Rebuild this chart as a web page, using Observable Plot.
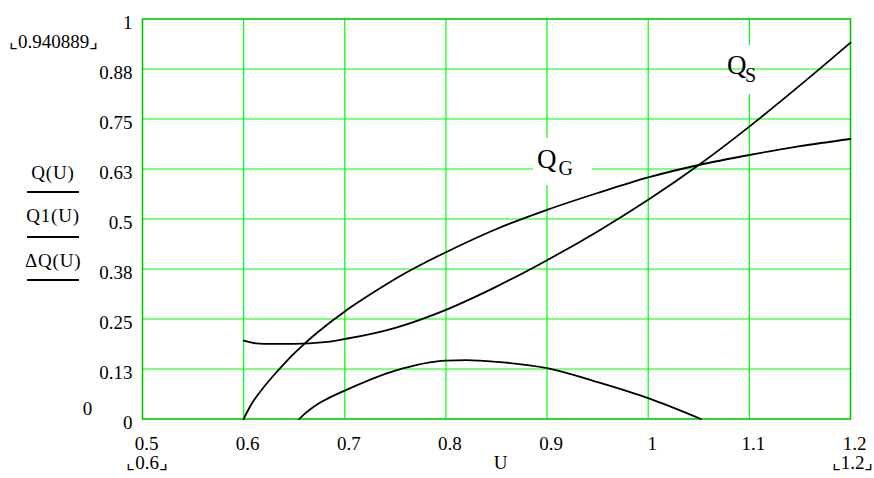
<!DOCTYPE html>
<html><head><meta charset="utf-8">
<script src="https://cdn.jsdelivr.net/npm/d3@7"></script>
<script src="https://cdn.jsdelivr.net/npm/@observablehq/plot@0.6"></script>
<style>
body{margin:0;background:#fff;}
#wrap{position:relative;width:874px;height:478px;font-family:"Liberation Serif","Times New Roman",serif;color:#000;}
.abs{position:absolute;white-space:nowrap;line-height:1;}
.leg{position:absolute;left:25px;width:56px;text-align:center;font-size:19px;line-height:19px;letter-spacing:0.8px;}
.ul{position:absolute;left:27px;width:52px;height:2px;background:#000;}
</style></head><body><div id="wrap"></div>
<script>
// Q(U): generator curve Q_G
const uG = [0.6,0.605,0.61,0.62,0.63,0.64,0.65,0.66,0.67,0.68,0.69,0.7,0.72,0.74,0.76,0.78,0.8,0.85,0.9,0.95,1.0,1.05,1.1,1.15,1.2];
const qG = [0,0.025,0.046,0.08,0.11,0.138,0.164,0.188,0.21,0.2305,0.25,0.269,0.303,0.335,0.365,0.392,0.417,0.475,0.523,0.565,0.604,0.635,0.66,0.682,0.70];
// Q1(U): load curve Q_S
const uS = [0.6,0.61,0.62,0.65,0.68,0.7,0.75,0.8,0.85,0.9,0.95,1.0,1.05,1.1,1.15,1.2];
const qS = [0.196,0.19,0.188,0.188,0.192,0.2,0.228,0.273,0.331,0.397,0.469,0.548,0.635,0.731,0.834,0.941];
// ΔQ(U)
const uD = [0.655,0.66,0.67,0.68,0.7,0.75,0.8,0.82,0.85,0.9,0.95,1.0,1.052];
const qD = [0,0.012,0.032,0.047,0.071,0.121,0.146,0.147,0.143,0.127,0.092,0.052,0];

const xTicks = [0.5,0.6,0.7,0.8,0.9,1.0,1.1,1.2];
const xLabels = ["0.5","0.6","0.7","0.8","0.9","1","1.1","1.2"];
const yTicks = [0,0.125,0.25,0.375,0.5,0.625,0.75,0.875,1];
const yLabels = ["0","0.13","0.25","0.38","0.5","0.63","0.75","0.88","1"];
const xGrid = [0.6,0.7,0.8,0.9,1.0,1.1];
const yGrid = [0.125,0.25,0.375,0.5,0.625,0.75,0.875];

const toRows = (us, vs) => us.map((u, i) => ({u, v: vs[i]}));
const FS = 19;
const chart = Plot.plot({
  width: 874, height: 478,
  marginLeft: 142, marginRight: 24, marginTop: 18.5, marginBottom: 59.5,
  style: {fontFamily: '"Liberation Serif","Times New Roman",serif', fontSize: FS + "px", background: "#fff", color: "#000"},
  x: {domain: [0.5, 1.2]},
  y: {domain: [0, 1]},
  marks: [
    Plot.gridX(xGrid, {stroke: "#00ff00", strokeOpacity: 1, strokeWidth: 1.2}),
    Plot.gridY(yGrid, {stroke: "#00ff00", strokeOpacity: 1, strokeWidth: 1.2}),
    Plot.frame({stroke: "#00c800", strokeWidth: 1.6}),
    Plot.line(toRows(uG, qG), {x: "u", y: "v", stroke: "#000", strokeWidth: 1.8, curve: "monotone-x"}),
    Plot.line(toRows(uS, qS), {x: "u", y: "v", stroke: "#000", strokeWidth: 1.8, curve: "monotone-x"}),
    Plot.line(toRows(uD, qD), {x: "u", y: "v", stroke: "#000", strokeWidth: 1.8, curve: "monotone-x"}),
    Plot.axisY({ticks: yTicks, tickFormat: d => yLabels[yTicks.indexOf(d)], tickSize: 0, tickPadding: 10, dy: 4, fontSize: FS, label: null}),
    Plot.axisX({ticks: xTicks, tickFormat: d => xLabels[xTicks.indexOf(d)], tickSize: 0, tickPadding: 17, dx: 4, fontSize: FS, label: null}),
    Plot.text(["\u231E0.940889\u231F"], {text: d => d, frameAnchor: "top-left", textAnchor: "middle", dx: -89, dy: 15, fontSize: FS}),
    Plot.text(["0"], {text: d => d, frameAnchor: "bottom-left", textAnchor: "middle", dx: -55, dy: -4.5, fontSize: FS}),
    Plot.text(["\u231E0.6\u231F"], {text: d => d, frameAnchor: "bottom-left", textAnchor: "middle", dx: 4.7, dy: 49.5, fontSize: FS}),
    Plot.text(["U"], {text: d => d, frameAnchor: "bottom", textAnchor: "middle", dx: 4, dy: 49.5, fontSize: FS}),
    Plot.text(["\u231E1.2\u231F"], {text: d => d, frameAnchor: "bottom-right", textAnchor: "middle", dx: 2, dy: 49.5, fontSize: FS})
  ]
});
const wrap = document.getElementById("wrap");
wrap.appendChild(chart);
const add = (html) => wrap.insertAdjacentHTML("beforeend", html);
// series name labels with line-style samples
add('<div class="leg" style="top:163px">Q(U)</div><div class="ul" style="top:191px"></div>');
add('<div class="leg" style="top:206px">Q1(U)</div><div class="ul" style="top:236px"></div>');
add('<div class="leg" style="top:251px">\u0394Q(U)</div><div class="ul" style="top:279px"></div>');
// curve annotations
add('<div class="abs" style="left:533px;top:138px;width:59px;height:47px;background:#fff"></div>');
add('<div class="abs" style="left:537px;top:145.5px;font-size:27px">Q</div>');
add('<div class="abs" style="left:558.5px;top:158px;font-size:20px">G</div>');
add('<div class="abs" style="left:745px;top:45px;width:7px;height:49px;background:#fff"></div>');
add('<div class="abs" style="left:727px;top:52px;font-size:27px">Q</div>');
add('<div class="abs" style="left:745px;top:64.5px;font-size:20px">S</div>');
</script>
</body></html>
